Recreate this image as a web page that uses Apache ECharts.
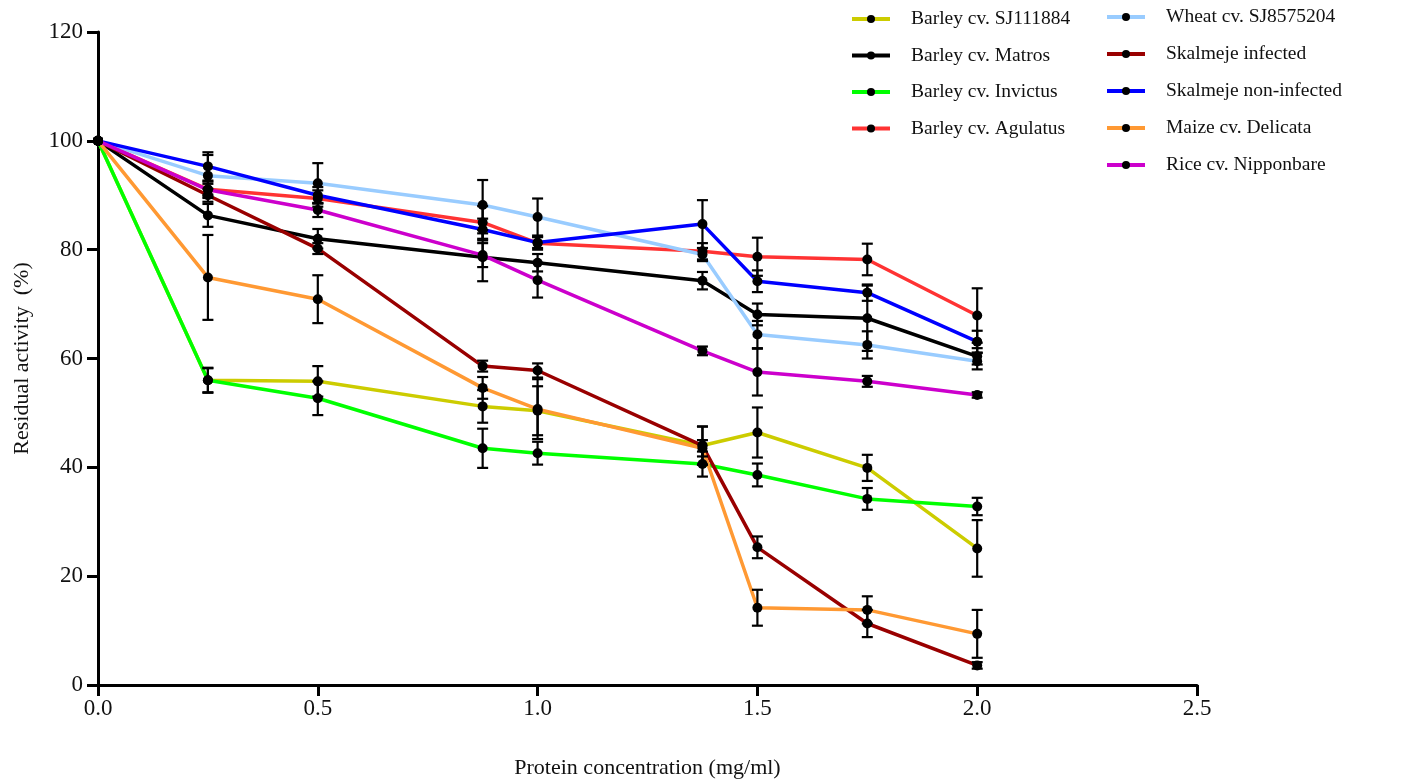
<!DOCTYPE html>
<html>
<head>
<meta charset="utf-8">
<script src="https://cdn.jsdelivr.net/npm/echarts@6/dist/echarts.min.js"></script>
<style>
html,body{margin:0;padding:0;background:#fff;}
#chart{width:1404px;height:784px;}
</style>
</head>
<body>
<div id="chart"></div>
<script>
const concentrations = [0, 0.25, 0.5, 0.875, 1.0, 1.375, 1.5, 1.75, 2.0];
const xTicks = [0, 0.5, 1.0, 1.5, 2.0, 2.5];
const yTicks = [0, 20, 40, 60, 80, 100, 120];

const seriesNames = [
  'Barley cv. SJ111884', 'Barley cv. Matros', 'Barley cv. Invictus', 'Barley cv. Agulatus',
  'Wheat cv. SJ8575204', 'Skalmeje infected', 'Skalmeje non-infected', 'Maize cv. Delicata', 'Rice cv. Nipponbare'
];
const seriesColors = ['#cccc00', '#000000', '#00ff00', '#ff3333', '#99ccff', '#990000', '#0000ff', '#ff9933', '#cc00cc'];

const barleySJ111884 = [100, 56.0, 55.8, 51.2, 50.4, 44.0, 46.4, 39.9, 25.1];
const barleyMatros   = [100, 86.3, 82.0, 78.6, 77.6, 74.3, 68.1, 67.4, 60.4];
const barleyInvictus = [100, 56.0, 52.7, 43.5, 42.6, 40.6, 38.6, 34.2, 32.8];
const barleyAgulatus = [100, 91.1, 89.4, 85.0, 81.2, 79.7, 78.7, 78.2, 67.9];
const wheatSJ8575204 = [100, 93.6, 92.2, 88.2, 86.0, 79.1, 64.4, 62.5, 59.5];
const skalmejeInf    = [100, 90.0, 80.2, 58.6, 57.8, 44.0, 25.3, 11.3, 3.6];
const skalmejeNonInf = [100, 95.3, 90.0, 83.7, 81.3, 84.7, 74.2, 72.1, 63.1];
const maizeDelicata  = [100, 74.9, 70.9, 54.6, 50.7, 43.5, 14.2, 13.8, 9.4];
const riceNipponbare = [100, 91.0, 87.3, 79.0, 74.4, 61.4, 57.5, 55.8, 53.3];

const errSJ111884 = [0, 2.3, 2.8, 3.0, 4.5, 3.5, 4.6, 2.4, 5.2];
const errMatros   = [0, 2.1, 1.8, 4.4, 1.6, 1.6, 2.0, 6.0, 1.5];
const errInvictus = [0, 2.2, 3.1, 3.6, 2.1, 2.3, 2.1, 2.0, 1.6];
const errAgulatus = [0, 1.0, 1.5, 3.0, 1.2, 1.5, 3.5, 2.9, 5.0];
const errWheat    = [0, 3.8, 3.7, 4.6, 3.4, 1.2, 2.5, 2.5, 1.5];
const errSkInf    = [0, 1.2, 1.0, 1.0, 1.3, 3.5, 2.0, 2.5, 0.6];
const errSkNonInf = [0, 2.6, 1.5, 2.0, 1.0, 4.4, 2.0, 1.5, 2.0];
const errMaize    = [0, 7.8, 4.4, 2.0, 5.5, 1.5, 3.3, 2.5, 4.4];
const errRice     = [0, 1.5, 1.3, 2.2, 3.2, 0.8, 4.3, 1.0, 0.5];

const allValues = [barleySJ111884, barleyMatros, barleyInvictus, barleyAgulatus, wheatSJ8575204, skalmejeInf, skalmejeNonInf, maizeDelicata, riceNipponbare];
const allErrors = [errSJ111884, errMatros, errInvictus, errAgulatus, errWheat, errSkInf, errSkNonInf, errMaize, errRice];

const FONT = '"Liberation Serif", "Times New Roman", serif';

const series = [];
allValues.forEach((vals, i) => {
  series.push({
    name: seriesNames[i],
    type: 'line',
    data: concentrations.map((x, j) => [x, vals[j]]),
    symbol: 'circle',
    symbolSize: 10,
    itemStyle: { color: '#000' },
    lineStyle: { color: seriesColors[i], width: 3.5 },
    color: seriesColors[i],
    z: 2
  });
});
allValues.forEach((vals, i) => {
  series.push({
    name: 'err_' + i,
    type: 'custom',
    z: 3,
    silent: true,
    data: concentrations.map((x, j) => [x, vals[j], allErrors[i][j]]),
    renderItem: function (params, api) {
      const x = api.value(0), y = api.value(1), e = api.value(2);
      if (!e) return null;
      const top = api.coord([x, y + e]);
      const bot = api.coord([x, y - e]);
      const hw = 5.5;
      const st = { stroke: '#000', lineWidth: 2.2 };
      return {
        type: 'group',
        children: [
          { type: 'line', shape: { x1: top[0], y1: top[1], x2: bot[0], y2: bot[1] }, style: st },
          { type: 'line', shape: { x1: top[0] - hw, y1: top[1], x2: top[0] + hw, y2: top[1] }, style: st },
          { type: 'line', shape: { x1: bot[0] - hw, y1: bot[1], x2: bot[0] + hw, y2: bot[1] }, style: st }
        ]
      };
    }
  });
});

const legendCommon = {
  orient: 'vertical',
  itemWidth: 38,
  itemHeight: 10,
  itemGap: 16.5,
  lineStyle: { width: 4 },
  textStyle: { fontFamily: FONT, fontSize: 19.5, color: '#111', padding: [0, 0, 0, 16] }
};

const chart = echarts.init(document.getElementById('chart'));
chart.setOption({
  animation: false,
  backgroundColor: '#fff',
  grid: { left: 98, right: 207, top: 32, bottom: 95 },
  legend: [
    Object.assign({}, legendCommon, { left: 845, top: 4, data: seriesNames.slice(0, 4) }),
    Object.assign({}, legendCommon, { left: 1100, top: 2, itemGap: 17, data: seriesNames.slice(4) })
  ],
  xAxis: {
    type: 'value',
    min: xTicks[0],
    max: xTicks[xTicks.length - 1],
    interval: 0.5,
    name: 'Protein concentration (mg/ml)',
    nameLocation: 'middle',
    nameGap: 72,
    nameTextStyle: { fontFamily: FONT, fontSize: 22, color: '#111' },
    axisLine: { lineStyle: { color: '#000', width: 3 } },
    axisTick: { show: true, length: 11, lineStyle: { color: '#000', width: 3 } },
    axisLabel: { fontFamily: FONT, fontSize: 23, color: '#111', margin: 12, formatter: v => v.toFixed(1) },
    splitLine: { show: false }
  },
  yAxis: {
    type: 'value',
    min: yTicks[0],
    max: yTicks[yTicks.length - 1],
    interval: 20,
    name: 'Residual activity  (%)',
    nameLocation: 'middle',
    nameGap: 65,
    nameTextStyle: { fontFamily: FONT, fontSize: 22, color: '#111' },
    axisLine: { show: true, lineStyle: { color: '#000', width: 3 } },
    axisTick: { show: true, length: 11, lineStyle: { color: '#000', width: 3 } },
    axisLabel: { fontFamily: FONT, fontSize: 23, color: '#111', margin: 15 },
    splitLine: { show: false }
  },
  series: series
});
</script>
</body>
</html>
